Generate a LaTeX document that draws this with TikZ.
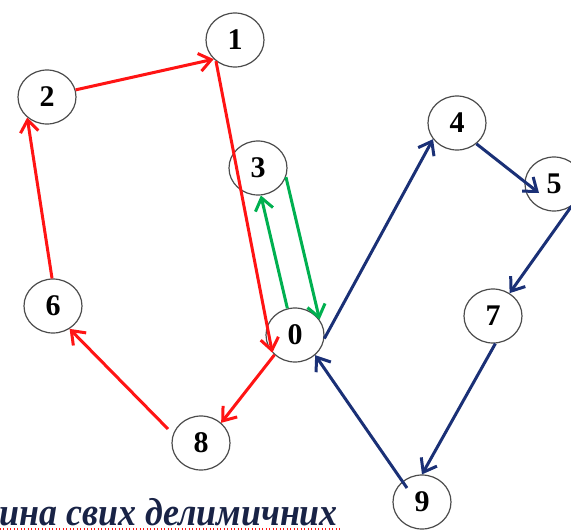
\documentclass[tikz,border=0pt]{standalone}
\usepackage{fontspec}
\setmainfont{Liberation Serif}
\usetikzlibrary{arrows.meta,shapes.geometric,calc}
\definecolor{myred}{RGB}{255,20,20}
\definecolor{mygreen}{RGB}{0,176,80}
\definecolor{mynavy}{RGB}{26,48,118}
\definecolor{textnavy}{RGB}{25,35,70}
\tikzset{
  vtx/.style={ellipse, draw=black!70, line width=1.2pt, minimum width=58pt, minimum height=54pt,
    inner sep=0pt, font=\fontsize{30}{30}\selectfont\bfseries},
  edgeline/.style={line width=3pt, -{Straight Barb[length=12pt,width=18pt]}},
  rededge/.style={edgeline, draw=myred},
  greenedge/.style={edgeline, draw=mygreen},
  navyedge/.style={edgeline, draw=mynavy},
}
\begin{document}
\begin{tikzpicture}[x=1pt,y=-1pt]
\useasboundingbox (0,0) rectangle (571,530);
\node[vtx] (n0) at (295,335) {0};
\node[vtx] (n1) at (235,40) {1};
\node[vtx] (n2) at (47,97) {2};
\node[vtx] (n3) at (258,168) {3};
\node[vtx] (n4) at (457,123) {4};
\node[vtx] (n5) at (554,184) {5};
\node[vtx] (n6) at (53,306) {6};
\node[vtx] (n7) at (493,316) {7};
\node[vtx] (n8) at (201,443) {8};
\node[vtx] (n9) at (422,502) {9};

\draw[rededge] (n2.14) -- (n1.222);
\draw[rededge] (n1.228) -- (n0.218);
\draw[rededge] (n0.224) -- (n8.45);
\draw[rededge] ($(n8)+(-33,-14)$) -- (n6.306);
\draw[rededge] (n6.92) -- (n2.226);
\draw[greenedge] (n0.106) -- (n3.276);
\draw[greenedge] (n3.342) -- (n0.32);
\draw[navyedge] (n0.353) -- (n4.214);
\draw[navyedge] (n4.313) -- ($(n5)+(-15,9)$);
\draw[navyedge] (n5.308) -- (n7.54);
\draw[navyedge] (n7.275) -- (n9.90);
\draw[navyedge] ($(n9)+(-15,-14)$) -- (n0.315);

\node[anchor=base east, inner sep=0pt, text=textnavy, xscale=0.92, transform shape,
  font=\fontsize{39}{39}\selectfont\bfseries\itshape] (cap) at (338,525) {ина свих делимичних};
\draw[myred, line width=1.3pt, dash pattern=on 1.3pt off 2.2pt]
  ($(cap.base west)+(0,4)$) -- ($(cap.base east)+(4,4)$);
\end{tikzpicture}
\end{document}
